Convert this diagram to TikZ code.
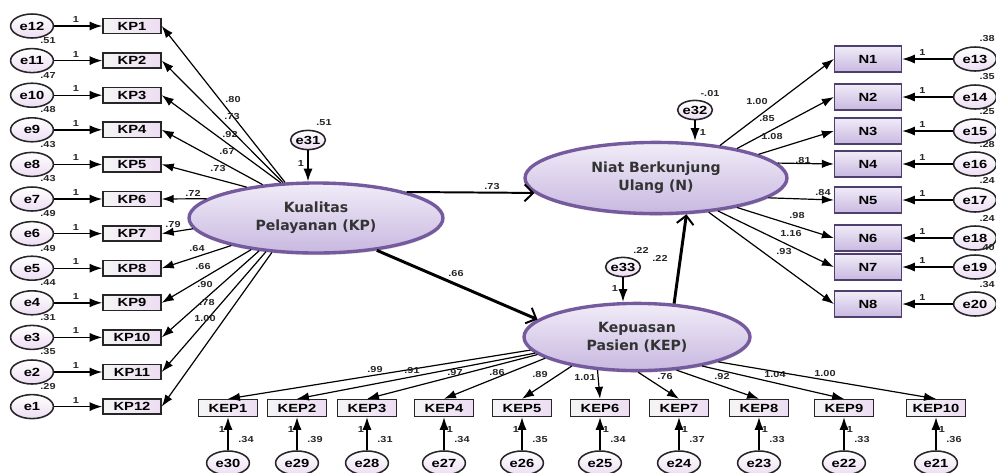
\documentclass[tikz,border=0pt]{standalone}
\usepackage{fontspec}
\newfontfamily\lblfont{Liberation Sans}[FakeStretch=1.25]
\newfontfamily\latfont{DejaVu Sans}
\usetikzlibrary{arrows.meta}
\usetikzlibrary{shapes.geometric}
\usetikzlibrary{shadows}
\usetikzlibrary{calc}

\definecolor{latborder}{HTML}{755A9E}
\definecolor{latlight}{HTML}{F1ECF8}
\definecolor{latdark}{HTML}{C8B8E0}
\definecolor{boxpink}{HTML}{EDDDF3}
\definecolor{nborder}{HTML}{4E3F6E}

\tikzset{
  err/.style={ellipse, draw=black!85, line width=1.1pt, top color=white, bottom color=boxpink,
    inner sep=0pt, minimum width=1.07cm, minimum height=0.6cm,
    font=\lblfont\bfseries\fontsize{8.4}{9}\selectfont},
  serr/.style={err, minimum width=0.85cm, minimum height=0.48cm},
  ind/.style={rectangle, draw=black!85, line width=1.1pt, left color=gray!8, right color=boxpink,
    inner sep=0pt, minimum width=1.45cm, minimum height=0.38cm,
    font=\lblfont\bfseries\fontsize{8.4}{9}\selectfont},
  kepind/.style={ind, minimum width=1.47cm, minimum height=0.42cm},
  nind/.style={ind, draw=nborder, top color=latlight, bottom color=latdark,
    minimum width=1.67cm, minimum height=0.65cm},
  lat/.style={ellipse, draw=latborder, line width=2.4pt, top color=latlight, bottom color=latdark,
    drop shadow={shadow xshift=0.5pt, shadow yshift=-1.5pt, opacity=0.25},
    align=center, inner sep=0pt, text=black!80,
    font=\latfont\bfseries\fontsize{10}{13}\selectfont},
  num/.style={font=\lblfont\bfseries\fontsize{6.2}{7}\selectfont, inner sep=0pt, text=black!85},
  load/.style={-{Latex[length=8.5pt,width=6pt]}, line width=0.85pt},
  fix/.style={-{Latex[length=9pt,width=6.5pt]}, line width=1pt},
  regr/.style={-{Straight Barb[length=6pt,width=12pt,line width=1.4pt]}, line width=2.1pt},
}

\begin{document}
\begin{tikzpicture}[x=0.25cm, y=-0.25cm]
\useasboundingbox (0,0) rectangle (99.6,47.2);

% latent variables
\node[lat, minimum width=6.35cm, minimum height=1.75cm] (KP) at (31.6,21.8) {Kualitas\\Pelayanan (KP)};
\node[lat, minimum width=6.55cm, minimum height=1.78cm] (N) at (65.6,17.8) {Niat Berkunjung\\Ulang (N)};
\node[lat, minimum width=5.65cm, minimum height=1.68cm] (KEP) at (63.7,33.7) {Kepuasan\\Pasien (KEP)};

% disturbances
\node[serr] (e31) at (30.8,14.0) {e31};
\node[serr] (e32) at (69.5,11.0) {e32};
\node[serr] (e33) at (62.3,26.7) {e33};
\draw[fix] (e31) -- (e31 |- KP.north);
\draw[fix] (e32) -- (e32 |- N.north);
\draw[fix] (e33) -- (e33 |- KEP.north);
\node[num] at (32.4,12.3) {.51};
\node[num] at (30.1,16.3) {1};
\node[num] at (71.0,9.3) {-.01};
\node[num] at (70.3,13.2) {1};
\node[num] at (64.1,25.0) {.22};
\node[num] at (61.5,28.8) {1};

% structural paths
\draw[regr, line width=1.4pt] (KP.16) -- (N.187);
\draw[regr] (KP.332) -- (KEP.170);
\draw[regr] (KEP.42) -- (N.310);
\node[num] at (49.2,18.7) {.73};
\node[num] at (45.6,27.3) {.66};
\node[num] at (66.0,25.8) {.22};

% indicators of KP
\foreach \i in {1,...,12}
{
  \pgfmathsetmacro\y{2.6+3.46*(\i-1)}
  \pgfmathtruncatemacro\e{13-\i}
  \node[ind] (kp\i) at (13.2,\y) {KP\i};
  \node[err] (e\e) at (3.2,\y) {e\e};
  \draw[fix] (e\e) -- node[num, above=2pt, pos=0.45] {1} (kp\i);
}
\foreach \e/\v in {12/.51, 11/.47, 10/.48, 9/.43, 8/.43, 7/.49, 6/.49, 5/.44, 4/.31, 3/.35, 2/.29}
  \node[num] at ($(e\e)+(1.6,1.45)$) {\v};
\foreach \i/\ang/\lab/\lx/\ly in {1/131/.80/23.3/9.9, 2/133/.73/23.2/11.7, 3/135/.92/23.0/13.4,
  4/148/.67/22.7/15.1, 5/156/.73/21.8/16.9, 6/170/.72/19.3/19.3, 7/185/.79/17.3/22.4,
  8/198/.64/19.7/24.8, 9/206/.66/20.3/26.6, 10/210/.90/20.5/28.4, 11/214/.78/20.7/30.2,
  12/218/1.00/20.5/31.8}
{
  \draw[load] (KP.\ang) -- (kp\i.east);
  \node[num] at (\lx,\ly) {\lab};
}

% indicators of N
\foreach \i/\y/\e/\ang/\lab/\lx/\ly/\v in {1/5.9/13/27/1.00/75.7/10.1/.38,
  2/9.7/14/20/.85/76.7/11.8/.35, 3/13.1/15/13/1.08/77.2/13.6/.25,
  4/16.4/16/7/.81/80.3/16.0/.28, 5/20.0/17/350/.84/82.3/19.2/.24,
  6/23.8/18/340/.98/79.7/21.5/.24, 7/26.7/19/332/1.16/79.1/23.3/.40,
  8/30.4/20/327/.93/78.4/25.2/.34}
{
  \node[nind] (n\i) at (86.8,\y) {N\i};
  \node[err] (e\e) at (97.5,\y) {e\e};
  \draw[fix] (e\e) -- node[num, above=2pt, pos=0.6] {1} (n\i);
  \draw[load] (N.\ang) -- (n\i.west);
  \node[num] at (\lx,\ly) {\lab};
  \node[num, anchor=east] at ($(e\e)+(2.0,-2.0)$) {\v};
}

% indicators of KEP
\foreach \i/\x/\e/\ang/\lab/\lx/\ly/\v/\s in {1/22.8/30/187/.99/37.5/36.9/.34/-0.6,
  2/29.7/29/189/.91/41.2/37.0/.39/-0.6, 3/36.7/28/190/.97/45.5/37.2/.31/-0.6,
  4/44.4/27/193/.86/49.7/37.2/.34/0.6, 5/52.2/26/204/.89/54.0/37.4/.35/-0.6,
  6/60.0/25/220/1.01/58.5/37.7/.34/0.6, 7/67.9/24/272/.76/66.5/37.6/.37/0.6,
  8/75.9/23/320/.92/72.2/37.6/.33/0.6, 9/84.4/22/336/1.04/77.5/37.4/.33/0.6,
  10/93.6/21/343/1.00/82.5/37.3/.36/0.6}
{
  \node[kepind] (kep\i) at (\x,40.8) {KEP\i};
  \node[err] (e\e) at (\x,46.3) {e\e};
  \draw[fix] (e\e) -- (kep\i);
  \node[num] at ($(e\e)+(\s,-3.4)$) {1};
  \node[num] at ($(e\e)+(1.8,-2.4)$) {\v};
  \draw[load] (KEP.\ang) -- (kep\i.north);
  \node[num] at (\lx,\ly) {\lab};
}
\end{tikzpicture}
\end{document}
